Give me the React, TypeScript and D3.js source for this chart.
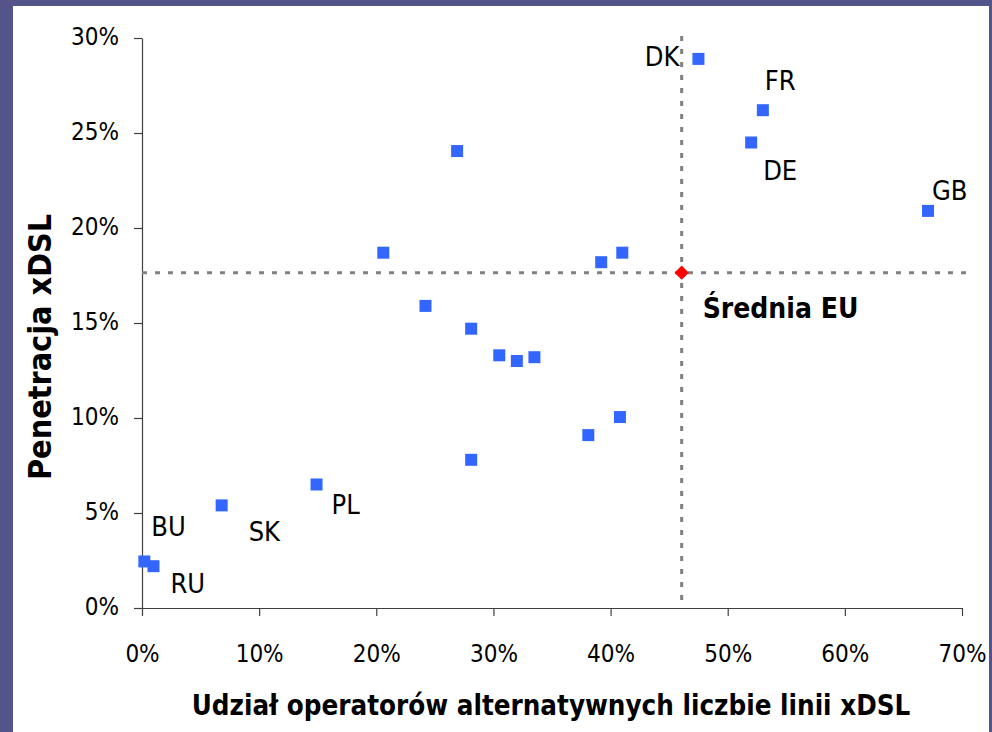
import * as d3 from "d3";
import {useRef, useEffect} from "react";

// country code ("" = unlabelled), share of alternative operators, xDSL penetration
const codes = ["DK", "FR", "DE", "GB", "BU", "RU", "SK", "PL", "", "", "", "", "", "", "", "", "", "", "", ""];
const share = [0.475, 0.53, 0.52, 0.671, 0.002, 0.0098, 0.068, 0.149, 0.269, 0.206, 0.392, 0.41, 0.242, 0.281, 0.305, 0.32, 0.335, 0.408, 0.381, 0.281];
const penetration = [0.289, 0.262, 0.245, 0.209, 0.0245, 0.022, 0.054, 0.065, 0.2405, 0.187, 0.182, 0.187, 0.159, 0.147, 0.133, 0.13, 0.132, 0.1005, 0.091, 0.078];

const euAverage = {share: 0.4607, penetration: 0.1765};
const xTicks = [0, 0.1, 0.2, 0.3, 0.4, 0.5, 0.6, 0.7];
const yTicks = [0, 0.05, 0.1, 0.15, 0.2, 0.25, 0.3];

const xTitle = "Udział operatorów alternatywnych liczbie linii xDSL";
const yTitle = "Penetracja xDSL";
const avgLabel = "Średnia EU";

// label placement relative to the point (anchor, dx, dy)
const labelPos: Record<string, [string, number, number]> = {
    DK: ["end", -19, 7],
    FR: ["start", 2, -20],
    DE: ["start", 12, 37],
    GB: ["start", 4, -11],
    BU: ["start", 7, -25],
    RU: ["start", 17, 27],
    SK: ["start", 27, 36],
    PL: ["start", 15, 29],
};

const FONT = "'DejaVu Sans Condensed', 'DejaVu Sans', sans-serif";

export default function App() {
    const svgRef = useRef(null);
    const W = 992, H = 732;
    const plot = {left: 142, right: 962, top: 38, bottom: 608};

    useEffect(() => {
        const svg = d3.select(svgRef.current);
        svg.selectAll("*").remove();

        // slide background + white chart panel
        svg.append("rect").attr("width", W).attr("height", H).attr("fill", "#53558a");
        svg.append("rect").attr("x", 13).attr("y", 6).attr("width", 976).attr("height", H - 6).attr("fill", "#ffffff");

        const x = d3.scaleLinear().domain([0, 0.7]).range([plot.left, plot.right]);
        const y = d3.scaleLinear().domain([0, 0.3]).range([plot.bottom, plot.top]);

        const xAxis = svg.append("g")
            .attr("transform", `translate(0,${plot.bottom})`)
            .call(d3.axisBottom(x).tickValues(xTicks).tickFormat(d3.format(".0%")).tickSize(8).tickSizeOuter(0).tickPadding(29));
        const yAxis = svg.append("g")
            .attr("transform", `translate(${plot.left},0)`)
            .call(d3.axisLeft(y).tickValues(yTicks).tickFormat(d3.format(".0%")).tickSize(8).tickSizeOuter(0).tickPadding(15));

        [xAxis, yAxis].forEach(a => {
            a.selectAll("path, line").attr("stroke", "#404040").attr("stroke-width", 1.2);
            a.selectAll("text").attr("font-family", FONT).attr("font-size", 24).attr("fill", "#000");
        });
        yAxis.selectAll("text").attr("dy", "0.25em");

        // EU average reference lines
        svg.append("line")
            .attr("x1", plot.left).attr("x2", plot.right + 8)
            .attr("y1", y(euAverage.penetration)).attr("y2", y(euAverage.penetration))
            .attr("stroke", "#808080").attr("stroke-width", 3).attr("stroke-dasharray", "5 8");
        svg.append("line")
            .attr("x1", x(euAverage.share)).attr("x2", x(euAverage.share))
            .attr("y1", plot.top - 2).attr("y2", plot.bottom)
            .attr("stroke", "#808080").attr("stroke-width", 3).attr("stroke-dasharray", "5 8");

        const data = share.map((s, i) => ({code: codes[i], s, p: penetration[i]}));

        // points
        svg.append("g").selectAll("rect").data(data).join("rect")
            .attr("x", d => x(d.s) - 6).attr("y", d => y(d.p) - 6)
            .attr("width", 12).attr("height", 12)
            .attr("fill", "#3366ff");

        svg.append("path")
            .attr("d", d3.symbol(d3.symbolDiamond2, 130)())
            .attr("transform", `translate(${x(euAverage.share)},${y(euAverage.penetration)})`)
            .attr("fill", "#ff0000");

        // country labels
        svg.append("g").selectAll("text").data(data.filter(d => d.code)).join("text")
            .attr("x", d => x(d.s) + labelPos[d.code][1])
            .attr("y", d => y(d.p) + labelPos[d.code][2])
            .attr("text-anchor", d => labelPos[d.code][0])
            .attr("font-family", FONT).attr("font-size", 27)
            .text(d => d.code);

        svg.append("text")
            .attr("x", x(euAverage.share) + 21).attr("y", y(euAverage.penetration) + 45)
            .attr("font-family", FONT).attr("font-size", 28).attr("font-weight", "bold")
            .text(avgLabel);

        // axis titles
        svg.append("text")
            .attr("x", 551).attr("y", 715)
            .attr("text-anchor", "middle")
            .attr("font-family", FONT).attr("font-size", 27.5).attr("font-weight", "bold")
            .text(xTitle);

        svg.append("text")
            .attr("transform", `translate(51,347) rotate(-90)`)
            .attr("text-anchor", "middle")
            .attr("font-family", FONT).attr("font-size", 32).attr("font-weight", "bold")
            .text(yTitle);
    }, []);

    return (
        <svg ref={svgRef} width={W} height={H} style={{position: "absolute", left: 0, top: 0}} />
    );
}
